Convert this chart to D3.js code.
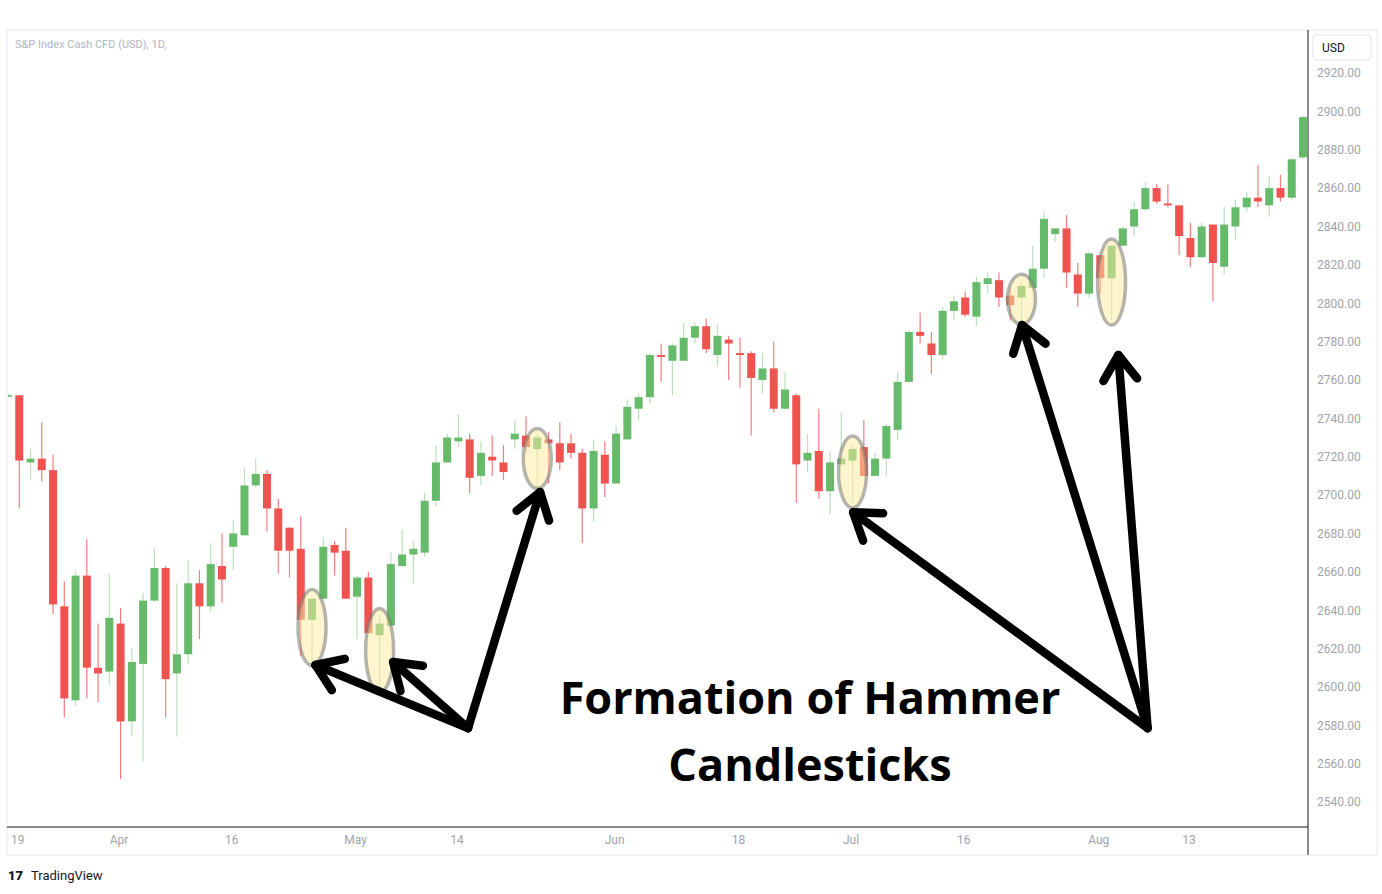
<!DOCTYPE html>
<html><head><meta charset="utf-8">
<script src="https://cdn.jsdelivr.net/npm/d3@7"></script>
<style>body{margin:0;background:#fff;}svg{display:block;}</style>
</head><body><svg id="chart"></svg>
<script>
var opens = [2752,2752,2717,2719,2713,2642,2593,2658,2610,2608,2633,2582,2612,2645,2662,2607,2617,2654,2642,2663,2673,2679,2705,2711,2693,2683,2672,2635,2646,2674,2671,2647,2657,2627,2632,2663,2669,2670,2697,2717,2728,2729,2710,2720,2717,2729,2731,2724,2729,2727,2727,2722,2693,2721,2706,2729,2745,2751,2773,2770,2770,2782,2788,2773,2781,2774,2774,2760,2766,2745,2752,2718,2723,2702,2716,2718,2725,2710,2719,2734,2759,2785,2779,2773,2796,2803,2793,2810,2812,2804,2803,2808,2818,2836,2839,2815,2805,2825,2813,2830,2840,2849,2860,2852,2851,2834,2824,2841,2819,2840,2850,2855,2851,2860,2855,2876];
var highs = [2753,2752,2724,2738,2721,2655,2660,2677,2633,2659,2641,2620,2649,2672,2663,2654,2666,2661,2675,2680,2687,2714,2719,2713,2698,2683,2689,2646,2678,2676,2683,2658,2660,2637,2670,2682,2676,2701,2726,2732,2742,2732,2728,2731,2726,2739,2741,2732,2733,2738,2732,2724,2729,2728,2736,2750,2753,2774,2779,2779,2790,2790,2792,2789,2783,2782,2775,2774,2780,2764,2753,2732,2745,2723,2743,2726,2739,2722,2737,2764,2786,2795,2785,2798,2804,2806,2814,2816,2816,2808,2811,2830,2848,2839,2846,2821,2827,2825,2830,2840,2853,2863,2862,2862,2851,2842,2842,2841,2850,2854,2858,2872,2866,2867,2876,2898];
var lows = [2751,2693,2708,2707,2638,2584,2590,2594,2592,2601,2552,2574,2561,2644,2584,2574,2612,2625,2639,2644,2661,2679,2704,2681,2659,2657,2616,2612,2646,2658,2646,2625,2628,2597,2631,2663,2654,2668,2694,2717,2725,2701,2705,2710,2708,2724,2722,2704,2706,2713,2719,2675,2686,2699,2706,2729,2739,2748,2759,2752,2770,2779,2774,2767,2760,2756,2731,2753,2743,2745,2696,2712,2698,2690,2716,2696,2710,2710,2710,2729,2759,2779,2763,2771,2791,2793,2788,2805,2798,2791,2791,2808,2813,2832,2808,2798,2803,2805,2791,2830,2835,2848,2852,2850,2825,2819,2824,2801,2815,2833,2848,2850,2845,2853,2854,2875];
var closes = [2752,2718,2719,2713,2643,2594,2658,2610,2607,2636,2582,2613,2645,2662,2604,2617,2654,2642,2664,2656,2680,2705,2711,2693,2671,2671,2635,2646,2673,2670,2646,2657,2628,2633,2664,2669,2672,2697,2717,2730,2730,2709,2722,2718,2712,2732,2725,2730,2727,2717,2722,2693,2723,2706,2732,2746,2751,2773,2772,2778,2782,2788,2776,2783,2779,2773,2761,2766,2745,2755,2716,2722,2702,2717,2719,2724,2710,2719,2736,2759,2785,2783,2773,2796,2801,2794,2811,2813,2803,2799,2809,2818,2844,2839,2816,2805,2826,2813,2830,2839,2849,2860,2853,2851,2835,2824,2840,2821,2841,2850,2855,2853,2860,2855,2875,2897];

var dateTicks = [1, 10, 20, 31, 40, 54, 65, 75, 85, 97, 105];
var dateLabels = ['19', 'Apr', '16', 'May', '14', 'Jun', '18', 'Jul', '16', 'Aug', '13'];
var priceTicks = d3.range(2540, 2921, 20);

// hammer highlights: candle index + centre price
var hammerIdx = [27, 33, 47, 75, 90, 98];
var hammerMid = [2631, 2619, 2719, 2712, 2802, 2811];
var hammerRy = [38, 42, 30, 36, 25, 43];
// arrows: [tailIdx, tailPrice, headIdx, headPrice]
var arrows = [
  [40.85, 2578.5, 27.3, 2611.4],
  [40.85, 2578.5, 34.2, 2613],
  [40.85, 2578.5, 47.25, 2701.6],
  [101.2, 2578.5, 75.05, 2691],
  [101.2, 2578.5, 90.05, 2788.6],
  [101.2, 2578.5, 98.6, 2773]
];

var W = 1382, H = 894;
var plotL = 8, plotR = 1308, plotT = 30, plotB = 827;
var up = '#66bb6a', down = '#ef5350';

var svg = d3.select('#chart').attr('width', W).attr('height', H);
var x = d3.scaleLinear().domain([0, opens.length - 1]).range([8, 1303]);
var y = d3.scaleLinear().domain([2540, 2920]).range([802, 73]);

// frame
svg.append('rect').attr('x', 7).attr('y', plotT).attr('width', 1370).attr('height', plotB - plotT + 28)
  .attr('fill', 'none').attr('stroke', '#e6e8ee');
svg.append('line').attr('x1', plotR).attr('x2', plotR).attr('y1', plotT).attr('y2', plotB + 28).attr('stroke', '#131722');
svg.append('line').attr('x1', 7).attr('x2', plotR).attr('y1', plotB).attr('y2', plotB).attr('stroke', '#131722');

svg.append('defs').append('clipPath').attr('id', 'clip').append('rect')
  .attr('x', plotL).attr('y', plotT).attr('width', plotR - plotL).attr('height', plotB - plotT);

var g = svg.append('g').attr('clip-path', 'url(#clip)');
var idx = d3.range(opens.length);
g.selectAll('line.wick').data(idx).enter().append('line')
  .attr('x1', function(i) { return x(i); }).attr('x2', function(i) { return x(i); })
  .attr('y1', function(i) { return y(highs[i]); }).attr('y2', function(i) { return y(lows[i]); })
  .attr('stroke', function(i) { return closes[i] >= opens[i] ? up : down; })
  .attr('stroke-opacity', function(i) { return closes[i] >= opens[i] ? 0.45 : 0.75; })
  .attr('stroke-width', 1.2);
g.selectAll('rect.body').data(idx).enter().append('rect')
  .attr('x', function(i) { return x(i) - 4; }).attr('width', 8)
  .attr('y', function(i) { return y(Math.max(opens[i], closes[i])); })
  .attr('height', function(i) { return Math.max(1.5, Math.abs(y(opens[i]) - y(closes[i]))); })
  .attr('fill', function(i) { return closes[i] >= opens[i] ? up : down; });

// right price axis
var yAxis = d3.axisRight(y).tickValues(priceTicks).tickSize(0).tickPadding(8)
  .tickFormat(function(d) { return d3.format('.2f')(d); });
svg.append('g').attr('transform', 'translate(' + (plotR + 1) + ',0)').call(yAxis)
  .call(function(s) { s.select('.domain').remove(); })
  .selectAll('text').attr('fill', '#a0a3ab').attr('font-size', 12).attr('font-family', 'Roboto, sans-serif');

// bottom date axis
var xAxis = d3.axisBottom(x).tickValues(dateTicks).tickSize(0).tickPadding(8)
  .tickFormat(function(d, i) { return dateLabels[i]; });
svg.append('g').attr('transform', 'translate(-2,' + plotB + ')').call(xAxis)
  .call(function(s) { s.select('.domain').remove(); })
  .selectAll('text').attr('fill', '#a0a3ab').attr('font-size', 12).attr('font-family', 'Roboto, sans-serif');

// USD box
svg.append('rect').attr('x', 1313).attr('y', 35).attr('width', 58).attr('height', 25).attr('rx', 3)
  .attr('fill', '#fff').attr('stroke', '#e0e3eb');
svg.append('text').attr('x', 1322).attr('y', 52).text('USD').attr('font-size', 12)
  .attr('font-family', 'Roboto, sans-serif').attr('fill', '#131722');
svg.append('text').attr('x', 15).attr('y', 48).text('S&P Index Cash CFD (USD), 1D,')
  .attr('font-size', 11).attr('font-family', 'Roboto, sans-serif').attr('fill', '#b2b5be');
svg.append('text').attr('x', 8).attr('y', 880).text('17').attr('font-size', 13).attr('font-weight', 900)
  .attr('font-family', 'Roboto, sans-serif').attr('fill', '#131722');
svg.append('text').attr('x', 31).attr('y', 880).text('TradingView').attr('font-size', 13)
  .attr('font-family', 'Roboto, sans-serif').attr('fill', '#131722');

// hammer highlights
svg.selectAll('ellipse.ham').data(hammerIdx).enter().append('ellipse')
  .attr('cx', function(d) { return x(d); })
  .attr('cy', function(d, i) { return y(hammerMid[i]); })
  .attr('rx', 14).attr('ry', function(d, i) { return hammerRy[i]; })
  .attr('fill', 'rgba(253,236,160,0.5)').attr('stroke', 'rgba(120,120,120,0.55)').attr('stroke-width', 3.5);

// arrows
var ag = svg.append('g').attr('stroke', '#000').attr('stroke-width', 8.5).attr('stroke-linecap', 'round').attr('fill', 'none');
arrows.forEach(function(a) {
  var x1 = x(a[0]), y1 = y(a[1]), x2 = x(a[2]), y2 = y(a[3]);
  var ang = Math.atan2(y2 - y1, x2 - x1), len = 30, spread = 0.6;
  ag.append('line').attr('x1', x1).attr('y1', y1).attr('x2', x2).attr('y2', y2);
  ag.append('path').attr('stroke-linejoin', 'round').attr('d',
    'M' + (x2 - len * Math.cos(ang - spread)) + ',' + (y2 - len * Math.sin(ang - spread)) +
    'L' + x2 + ',' + y2 +
    'L' + (x2 - len * Math.cos(ang + spread)) + ',' + (y2 - len * Math.sin(ang + spread)));
});

// caption
var cap = svg.append('g').attr('font-family', '"Open Sans", sans-serif').attr('font-weight', 700)
  .attr('font-size', 45).attr('fill', '#000').attr('text-anchor', 'middle');
cap.append('text').attr('x', 810).attr('y', 714).text('Formation of Hammer');
cap.append('text').attr('x', 810).attr('y', 781).text('Candlesticks');
</script>
</body></html>
